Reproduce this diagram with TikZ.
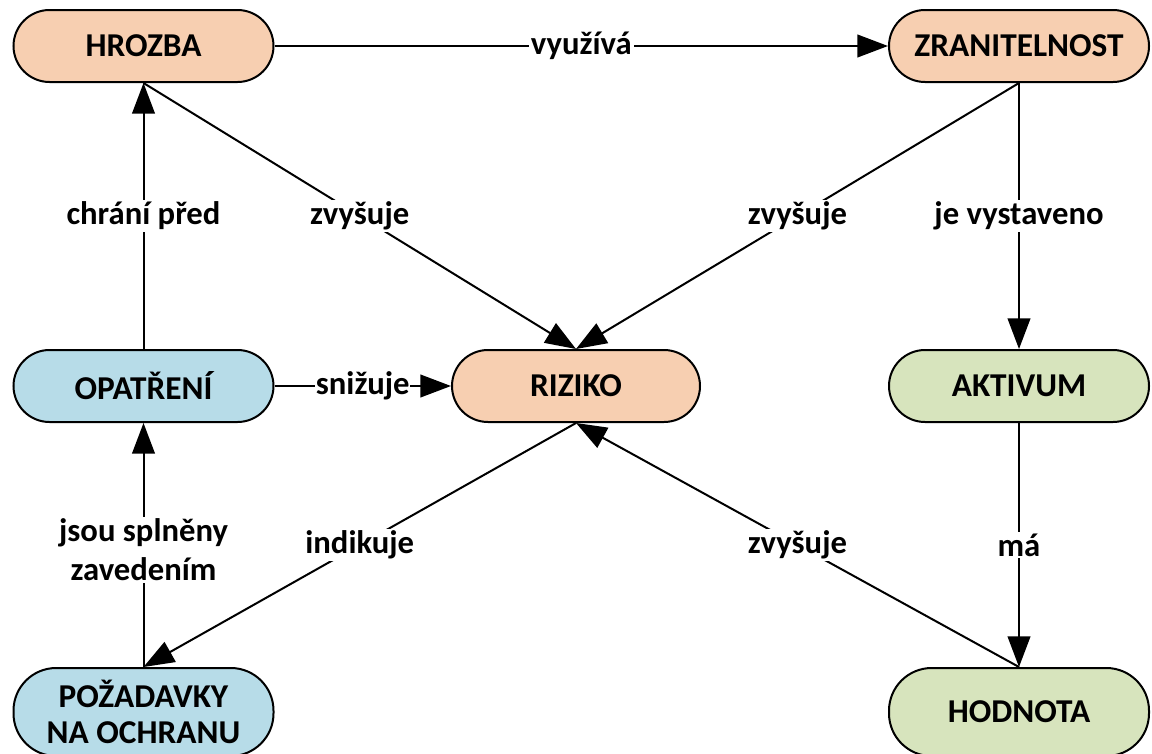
\documentclass[tikz,border=0pt]{standalone}
\usepackage{fontspec}
\setmainfont{Carlito}
\usetikzlibrary{arrows.meta}
\definecolor{peach}{HTML}{F7CFB1}
\definecolor{aqua}{HTML}{B7DCE8}
\definecolor{olive}{HTML}{D7E4BD}
\begin{document}
\begin{tikzpicture}[x=0.75pt,y=-0.75pt,
  concept/.style={draw=black,line width=1.5pt,rounded corners=27pt,
    minimum width=195pt,minimum height=54pt,inner sep=0pt,align=center,
    font=\fontsize{25}{27}\selectfont\bfseries},
  tall/.style={minimum height=66pt,rounded corners=32pt},
  link/.style={line width=1.5pt,-{Triangle[length=23pt,width=17pt]}},
  rel/.style={fill=white,inner sep=1.5pt,align=center,
    font=\fontsize{24.5}{29}\selectfont\bfseries}]
\useasboundingbox (0,0) rectangle (1152,753);

% concepts
\node[concept,fill=peach] (hrozba) at (143.5,46) {HROZBA};
\node[concept,fill=peach] (zran) at (1019,46) {ZRANITELNOST};
\node[concept,fill=aqua] (opatreni) at (143.5,386) {OPATŘENÍ};
\node[concept,fill=peach,minimum width=186pt] (riziko) at (576,386) {RIZIKO};
\node[concept,fill=olive] (aktivum) at (1019,386) {AKTIVUM};
\node[concept,tall,fill=aqua] (pozadavky) at (143.5,712) {POŽADAVKY\\NA OCHRANU};
\node[concept,tall,fill=olive] (hodnota) at (1019,712) {HODNOTA};

% relations
\draw[link] (hrozba.east) -- node[rel] (l1) {využívá} (zran.west);
\draw[link] (opatreni.north) -- node[rel] (l2) {chrání před} (hrozba.south);
\draw[link] (hrozba.south) -- node[rel] (l3) {zvyšuje} (riziko.north);
\draw[link] (zran.south) -- node[rel] (l4) {zvyšuje} (riziko.north);
\draw[link] (zran.south) -- node[rel] (l5) {je vystaveno} (aktivum.north);
\draw[link] (opatreni.east) -- node[rel,inner sep=0.5pt] (l6) {snižuje} (riziko.west);
\draw[link] (riziko.south) -- node[rel] (l7) {indikuje} (pozadavky.north);
\draw[link] (hodnota.north) -- node[rel] (l8) {zvyšuje} (riziko.south);
\draw[link] (aktivum.south) -- node[rel] (l9) {má} (hodnota.north);
\draw[link] (pozadavky.north) -- node[rel,pos=0.48] (l10) {jsou splněny\\zavedením} (opatreni.south);
\end{tikzpicture}
\end{document}
